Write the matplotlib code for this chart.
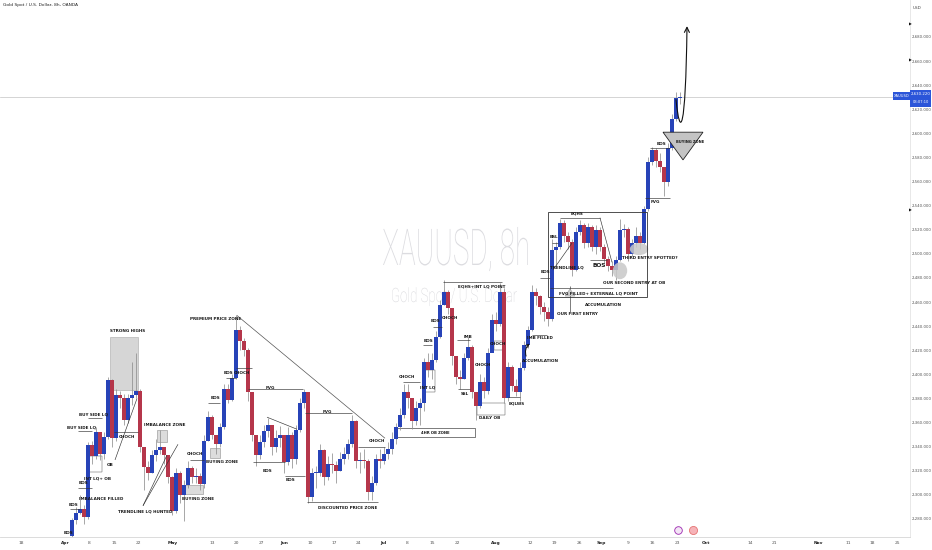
import matplotlib
matplotlib.use('Agg')
import matplotlib.pyplot as plt
from matplotlib.patches import Rectangle, Polygon, Ellipse, PathPatch, FancyArrowPatch
from matplotlib.textpath import TextPath
from matplotlib.font_manager import FontProperties
from matplotlib.path import Path
from matplotlib.transforms import Affine2D

# XAUUSD candles (one candle ~ every 4 px of the original)
first_open = 2266
closes = [2279, 2285, 2288, 2282, 2341, 2332, 2352, 2334, 2348, 2395,
          2347, 2383, 2380, 2362, 2380, 2383, 2386, 2340, 2323, 2318,
          2333, 2337, 2340, 2333, 2315, 2287, 2318, 2300, 2308, 2322,
          2315, 2316, 2309, 2345, 2365, 2350, 2342, 2356, 2388, 2379,
          2397, 2437, 2428, 2420, 2385, 2350, 2333, 2344, 2353, 2358,
          2340, 2347, 2350, 2327, 2350, 2330, 2354, 2376, 2385, 2298,
          2318, 2318, 2337, 2315, 2326, 2325, 2320, 2330, 2334, 2342,
          2361, 2328, 2329, 2328, 2302, 2310, 2330, 2328, 2334, 2338,
          2346, 2356, 2366, 2385, 2380, 2361, 2372, 2376, 2410, 2404,
          2412, 2431, 2458, 2468, 2455, 2415, 2398, 2396, 2414, 2423,
          2385, 2374, 2394, 2386, 2418, 2445, 2442, 2468, 2380, 2406,
          2390, 2385, 2405, 2424, 2437, 2468, 2465, 2456, 2452, 2446,
          2503, 2506, 2526, 2515, 2510, 2487, 2518, 2524, 2509, 2522,
          2506, 2520, 2506, 2496, 2490, 2487, 2495, 2520, 2521, 2500,
          2509, 2515, 2509, 2537, 2576, 2586, 2577, 2572, 2560, 2588,
          2612, 2629, 2630]
highs = [2281, 2290, 2300, 2292, 2344, 2345, 2356, 2352, 2352, 2398,
         2396, 2388, 2386, 2384, 2384, 2410, 2418, 2388, 2340, 2328,
         2337, 2346, 2354, 2340, 2331, 2316, 2322, 2320, 2312, 2328,
         2324, 2322, 2318, 2350, 2370, 2366, 2348, 2360, 2392, 2392,
         2400, 2449, 2440, 2430, 2422, 2380, 2340, 2350, 2358, 2364,
         2358, 2354, 2357, 2345, 2356, 2352, 2358, 2380, 2388, 2385,
         2322, 2324, 2342, 2338, 2332, 2335, 2328, 2336, 2340, 2346,
         2366, 2362, 2336, 2338, 2330, 2316, 2334, 2338, 2340, 2344,
         2352, 2360, 2372, 2392, 2392, 2378, 2378, 2380, 2414, 2418,
         2418, 2436, 2462, 2478, 2470, 2452, 2410, 2404, 2418, 2431,
         2424, 2380, 2400, 2398, 2422, 2450, 2452, 2476, 2472, 2410,
         2408, 2396, 2410, 2428, 2440, 2474, 2472, 2466, 2460, 2456,
         2512, 2510, 2529, 2528, 2518, 2512, 2522, 2528, 2526, 2526,
         2524, 2524, 2522, 2508, 2498, 2494, 2498, 2529, 2525, 2522,
         2512, 2522, 2518, 2540, 2580, 2589, 2588, 2584, 2572, 2592,
         2616, 2634, 2634]
lows = [2264, 2276, 2284, 2276, 2280, 2326, 2330, 2329, 2330, 2346,
        2340, 2345, 2372, 2358, 2360, 2375, 2380, 2336, 2304, 2312,
        2318, 2328, 2334, 2326, 2310, 2283, 2285, 2293, 2278, 2306,
        2310, 2310, 2304, 2306, 2345, 2346, 2334, 2340, 2355, 2376,
        2378, 2396, 2420, 2415, 2378, 2345, 2324, 2330, 2340, 2348,
        2333, 2336, 2340, 2318, 2325, 2322, 2326, 2352, 2372, 2293,
        2295, 2306, 2316, 2308, 2312, 2318, 2310, 2320, 2326, 2330,
        2340, 2322, 2318, 2322, 2296, 2296, 2308, 2322, 2326, 2330,
        2334, 2342, 2354, 2364, 2372, 2355, 2358, 2358, 2370, 2398,
        2396, 2410, 2430, 2458, 2450, 2408, 2392, 2388, 2396, 2412,
        2380, 2362, 2372, 2380, 2384, 2420, 2436, 2440, 2376, 2378,
        2386, 2382, 2378, 2404, 2422, 2436, 2458, 2450, 2444, 2440,
        2444, 2490, 2504, 2510, 2504, 2482, 2486, 2516, 2505, 2506,
        2502, 2500, 2502, 2492, 2486, 2482, 2478, 2494, 2514, 2494,
        2498, 2506, 2504, 2508, 2536, 2574, 2572, 2568, 2548, 2556,
        2586, 2610, 2624]
last_price = 2630.22

price_ticks = list(range(2280, 2700, 20))
date_labels = ['18', 'Apr', '8', '15', '22', 'May', '13', '20', '27', 'Jun',
               '10', '17', '24', 'Jul', '8', '15', '22', 'Aug', '12', '19',
               '26', 'Sep', '9', '16', '23', 'Oct', '14', '21', 'Nov', '11',
               '18', '25']
date_pos = [-12.75, -1.75, 4.25, 10.5, 16.5, 25.25, 35, 41, 47.25, 53,
            59.5, 65.5, 71.5, 77.75, 83.75, 90, 96.25, 106, 114.5, 120.5,
            126.75, 132.25, 139, 145, 151.25, 158.5, 169.5, 175.5, 186.5, 194,
            200, 206.25]
months = {'Apr', 'May', 'Jun', 'Jul', 'Aug', 'Sep', 'Oct', 'Nov'}

UP = '#2743b8'
DOWN = '#b5364b'
LAB = ['Liberation Sans Narrow', 'DejaVu Sans']

fig = plt.figure(figsize=(9.32, 5.5), dpi=100)
fig.patch.set_facecolor('white')
ax = fig.add_axes([0, 13 / 550, 910 / 932, 537 / 550])
ax.set_facecolor('white')

# watermark (condensed, drawn as a path so it can be squeezed)
def watermark(txt, left, base, width, cap, color):
    fp = FontProperties(family='Roboto', weight='light')
    tp = TextPath((0, 0), txt, size=1, prop=fp)
    ext = tp.get_extents()
    tr = Affine2D().translate(-ext.x0, 0).scale(width / ext.width, cap / 0.71).translate(left, 550 - base)
    ax.add_artist(PathPatch(tp, transform=tr, facecolor=color, lw=0, zorder=0.5))

watermark('XAUUSD, 8h', 383, 265, 145, 36, '#dcdce0')
watermark('Gold Spot / U.S. Dollar', 392, 302, 125, 14, '#d6d6da')

# candles
n = len(closes)
xs = list(range(n))
opens = [first_open] + closes[:-1]
ax.vlines(xs, lows, highs, color='#8f8f8f', lw=0.55, zorder=2)
bottoms = [min(o, c) for o, c in zip(opens, closes)]
heights = [max(abs(c - o), 0.8) for o, c in zip(opens, closes)]
cols = [UP if c >= o else DOWN for o, c in zip(opens, closes)]
ax.bar(xs, heights, bottom=bottoms, width=0.82, color=cols, zorder=3, linewidth=0)

ax.axhline(last_price, color='#c4c4c4', lw=0.5, zorder=1)

# ---- drawings ----
def tag(b, p, s, size=3.0):
    ax.text(b, p, s, fontsize=size, fontweight='bold', ha='center', va='center',
            color='#1a1a1a', family=LAB, zorder=6)

def seg(b1, p1, b2, p2, lw=0.45, color='#333333'):
    ax.plot([b1, b2], [p1, p2], color=color, lw=lw, zorder=4, solid_capstyle='butt')

def box(b1, p1, b2, p2, fc='none', ec='#333333', lw=0.45, z=1.5):
    ax.add_patch(Rectangle((b1, p1), b2 - b1, p2 - p1, facecolor=fc, edgecolor=ec, lw=lw, zorder=z))

# April
box(9.5, 2387, 16.5, 2431, fc='#d6d6d6', ec='#b0b0b0', z=1)
tag(14, 2436, 'STRONG HIGHS')
tag(5.5, 2367, 'BUY SIDE LQ'); seg(4, 2364, 7.5, 2364)
tag(2.5, 2356, 'BUY SIDE LQ'); seg(1.5, 2353, 5, 2353)
box(4, 2319, 7.5, 2332, ec='#555555', lw=0.35)
tag(6.25, 2314, 'INT LQ+ OB')
tag(9.5, 2325, 'OB')
seg(10.75, 2329, 16.25, 2380)
seg(10.5, 2352, 16.5, 2352)
tag(13.75, 2348, 'CHOCH')
tag(2.75, 2310, 'BOS'); seg(1.5, 2306, 5, 2306)
tag(0.25, 2292, 'BOS'); seg(-0.5, 2288, 2, 2288)
tag(-1, 2268.5, 'BOS')
tag(7.25, 2297, 'IMBALANCE FILLED')
box(21.25, 2344, 23.75, 2354, fc='#dcdcdc', ec='#999999', z=1)
tag(23.25, 2358, 'IMBALANCE ZONE')
seg(17.75, 2291, 23.75, 2333)
seg(17.75, 2291, 26.5, 2342)
tag(18.25, 2286.5, 'TRENDLINE LQ HUNTED')
seg(29.5, 2329, 33, 2329)
tag(30.75, 2334, 'CHOCH')
box(27.75, 2301, 32.75, 2308, fc='#dcdcdc', ec='#999999', z=1)
tag(31.5, 2297, 'BUYING ZONE')
seg(34, 2376, 37, 2376)
tag(35.75, 2380.5, 'BOS')
box(34.5, 2331, 37, 2339, fc='#dcdcdc', ec='#999999', z=1)
tag(37.5, 2327, 'BUYING ZONE')

# May - June
tag(36, 2446, 'PREMIUM PRICE ZONE')
seg(41.2, 2449, 78.25, 2347, lw=0.5, color='#555555')
seg(38.5, 2397, 41, 2397)
tag(39, 2401, 'BOS')
seg(41, 2405, 45, 2405)
tag(42.5, 2401, 'CHOCH')
seg(44, 2388, 57.75, 2388)
tag(49.5, 2388.5, 'FVG')
seg(45.25, 2327, 53.25, 2327)
tag(48.75, 2320, 'BOS')
seg(48.75, 2364.5, 56.25, 2354.5)
seg(53.25, 2315.5, 58.25, 2315.5)
tag(54.5, 2312, 'BOS')
seg(58.25, 2368, 70, 2368)
tag(63.75, 2369, 'FVG')
seg(71.5, 2340, 78.25, 2340)
tag(76.25, 2345, 'CHOCH')
seg(58.75, 2294, 76.5, 2294)
tag(69, 2289, 'DISCOUNTED PRICE ZONE')

# July
box(81.25, 2348, 100.75, 2355.5, fc='white', ec='#333333', z=1.2)
tag(90.75, 2351.7, '4HR OB ZONE', size=2.7)
seg(82.75, 2394, 87, 2394)
tag(83.75, 2398, 'CHOCH')
box(88.25, 2385, 90.75, 2404, ec='#555555', lw=0.35)
tag(89, 2389, 'INT LQ')
seg(87.75, 2424, 90, 2424); tag(89, 2428, 'BOS')
seg(90.25, 2439, 92.5, 2439); tag(90.75, 2444, 'BOS')
tag(94.5, 2447, 'CHOCH')
seg(92.75, 2476.7, 107.5, 2476.7)
tag(102.5, 2473, 'EQHS+INT LQ POINT')
seg(96.25, 2428.5, 99.5, 2428.5); tag(99, 2431, 'IMB')
seg(96.5, 2388, 99.5, 2388); tag(98.25, 2384, 'SSL')
tag(102.75, 2408, 'CHOCH')
box(105.5, 2420, 108, 2428, ec='#555555', lw=0.35)
tag(106.5, 2425, 'CHOCH')
box(101.25, 2366, 108.25, 2376, ec='#555555', lw=0.35)
tag(104.5, 2364, 'DAILY OB')
seg(109, 2381, 112, 2381); tag(111.25, 2376, 'EQLWS')
seg(115, 2432.7, 118.75, 2432.7); tag(117, 2430, 'IMB FILLED')
tag(117, 2411, 'ACCUMULATION')
ax.add_patch(FancyArrowPatch((113.75, 2413), (114.9, 2427), arrowstyle='->', mutation_scale=5,
                             connectionstyle='arc3,rad=-0.4', color='#111111', lw=0.7, zorder=6))

# August - September
box(119, 2464, 143.75, 2535, ec='#333333', lw=0.6, z=4)
seg(117, 2480, 119.5, 2480); tag(118.25, 2485, 'BOS')
seg(122, 2530, 132, 2530); tag(126.25, 2533.5, 'EQHS')
seg(120, 2509, 121.5, 2509); tag(120.5, 2514, 'BSL')
seg(120.25, 2486.6, 125, 2509)
tag(123.75, 2489, 'TRENDLINE LQ')
seg(132, 2530, 135, 2493)
seg(129.5, 2495, 133.75, 2495); tag(131.75, 2490, 'BOS', size=4.2)
seg(119.5, 2471.7, 135.25, 2471.7)
seg(124.5, 2452, 124.5, 2473)
ax.add_patch(Polygon([(123.3, 2465), (124.5, 2471), (125.7, 2465)], closed=True,
                     facecolor='#cfcfcf', edgecolor='#888888', lw=0.3, zorder=4))
tag(131.5, 2467.5, 'FVG FILLED+ EXTERNAL LQ POINT')
tag(132.75, 2457.6, 'ACCUMULATION')
tag(126.25, 2450, 'OUR FIRST ENTRY')
ax.add_patch(Ellipse((137, 2486), 3.6, 14, facecolor='#c8c8c8', edgecolor='none', alpha=0.85, zorder=3.5))
tag(140.5, 2476, 'OUR SECOND ENTRY AT OB')
ax.add_patch(Ellipse((141.75, 2504), 4.6, 10, facecolor='#c8c8c8', edgecolor='none', alpha=0.85, zorder=3.5))
tag(144.5, 2496.6, 'THIRD ENTRY SPOTTED?')
seg(143.25, 2546.4, 149.5, 2546.4); tag(145.75, 2543, 'FVG')
seg(144.5, 2588, 149.5, 2588); tag(147.25, 2591, 'BOS')
ax.add_patch(Polygon([(147.75, 2601), (157.75, 2601), (152.75, 2578)], closed=True,
                     facecolor='#c4c4c4', edgecolor='#222222', lw=0.6, zorder=4))
tag(154.5, 2593, 'BUYING ZONE', size=2.6)
curve = Path([(151.0, 2628), (152.0, 2595), (153.4, 2600), (153.75, 2689)],
             [Path.MOVETO, Path.CURVE4, Path.CURVE4, Path.CURVE4])
ax.add_patch(FancyArrowPatch(path=curve, arrowstyle='->', mutation_scale=9, color='#111111',
                             lw=0.8, zorder=6))

# small event icons at the bottom
ax.scatter([151.5], [2270.5], s=30, facecolor='#f3e5f5', edgecolor='#9c27b0', lw=0.6, zorder=6)
ax.scatter([155.25], [2270.5], s=34, facecolor='#f6b3b8', edgecolor='#e57373', lw=0.6, zorder=6)

# ---- axes ----
ax.set_xlim(-18, 209.5)
ax.set_ylim(2265.06, 2710.7)
for s in ['top', 'left']:
    ax.spines[s].set_visible(False)
ax.spines['bottom'].set_color('#d6d6d6')
ax.spines['bottom'].set_linewidth(0.6)
ax.spines['right'].set_color('#e4e4e4')
ax.spines['right'].set_linewidth(0.6)

ax.yaxis.tick_right()
ax.set_yticks(price_ticks)
ax.set_yticklabels([f'{v:,.3f}' for v in price_ticks])
ax.tick_params(axis='y', length=0, pad=1.5, labelsize=2.8, labelcolor='#555555')
ax.set_xticks(date_pos)
ax.set_xticklabels(date_labels)
ax.tick_params(axis='x', length=0, pad=3, labelsize=3.2, labelcolor='#555555')
for t in ax.get_xticklabels():
    if t.get_text() in months:
        t.set_fontweight('bold')
        t.set_color('#222222')

fig.text(0.003, 1 - 3 / 550, 'Gold Spot / U.S. Dollar, 8h, OANDA', fontsize=3.2, va='top',
         color='#222222', family=LAB)
fig.text(913 / 932, 1 - 8 / 550, 'USD', fontsize=3, va='center', color='#444444')
for yy in [25, 61, 210]:
    fig.text(909 / 932, 1 - yy / 550, '\u25b6', fontsize=2.6, va='center', color='#111111')

# last price labels
fig.patches.append(Rectangle((893 / 932, (550 - 100) / 550), 17 / 932, 8 / 550,
                             transform=fig.transFigure, facecolor='#2b55d9', edgecolor='none'))
fig.patches.append(Rectangle((910 / 932, (550 - 107) / 550), 21 / 932, 17 / 550,
                             transform=fig.transFigure, facecolor='#2b55d9', edgecolor='none'))
fig.text(901.5 / 932, 1 - 96 / 550, 'XAUUSD', fontsize=2.6, ha='center', va='center', color='white')
fig.text(920.5 / 932, 1 - 94 / 550, '2,630.220', fontsize=2.8, ha='center', va='center', color='white')
fig.text(920.5 / 932, 1 - 102 / 550, '03:07:10', fontsize=2.6, ha='center', va='center', color='white')

fig.savefig('out.png', dpi=100)
